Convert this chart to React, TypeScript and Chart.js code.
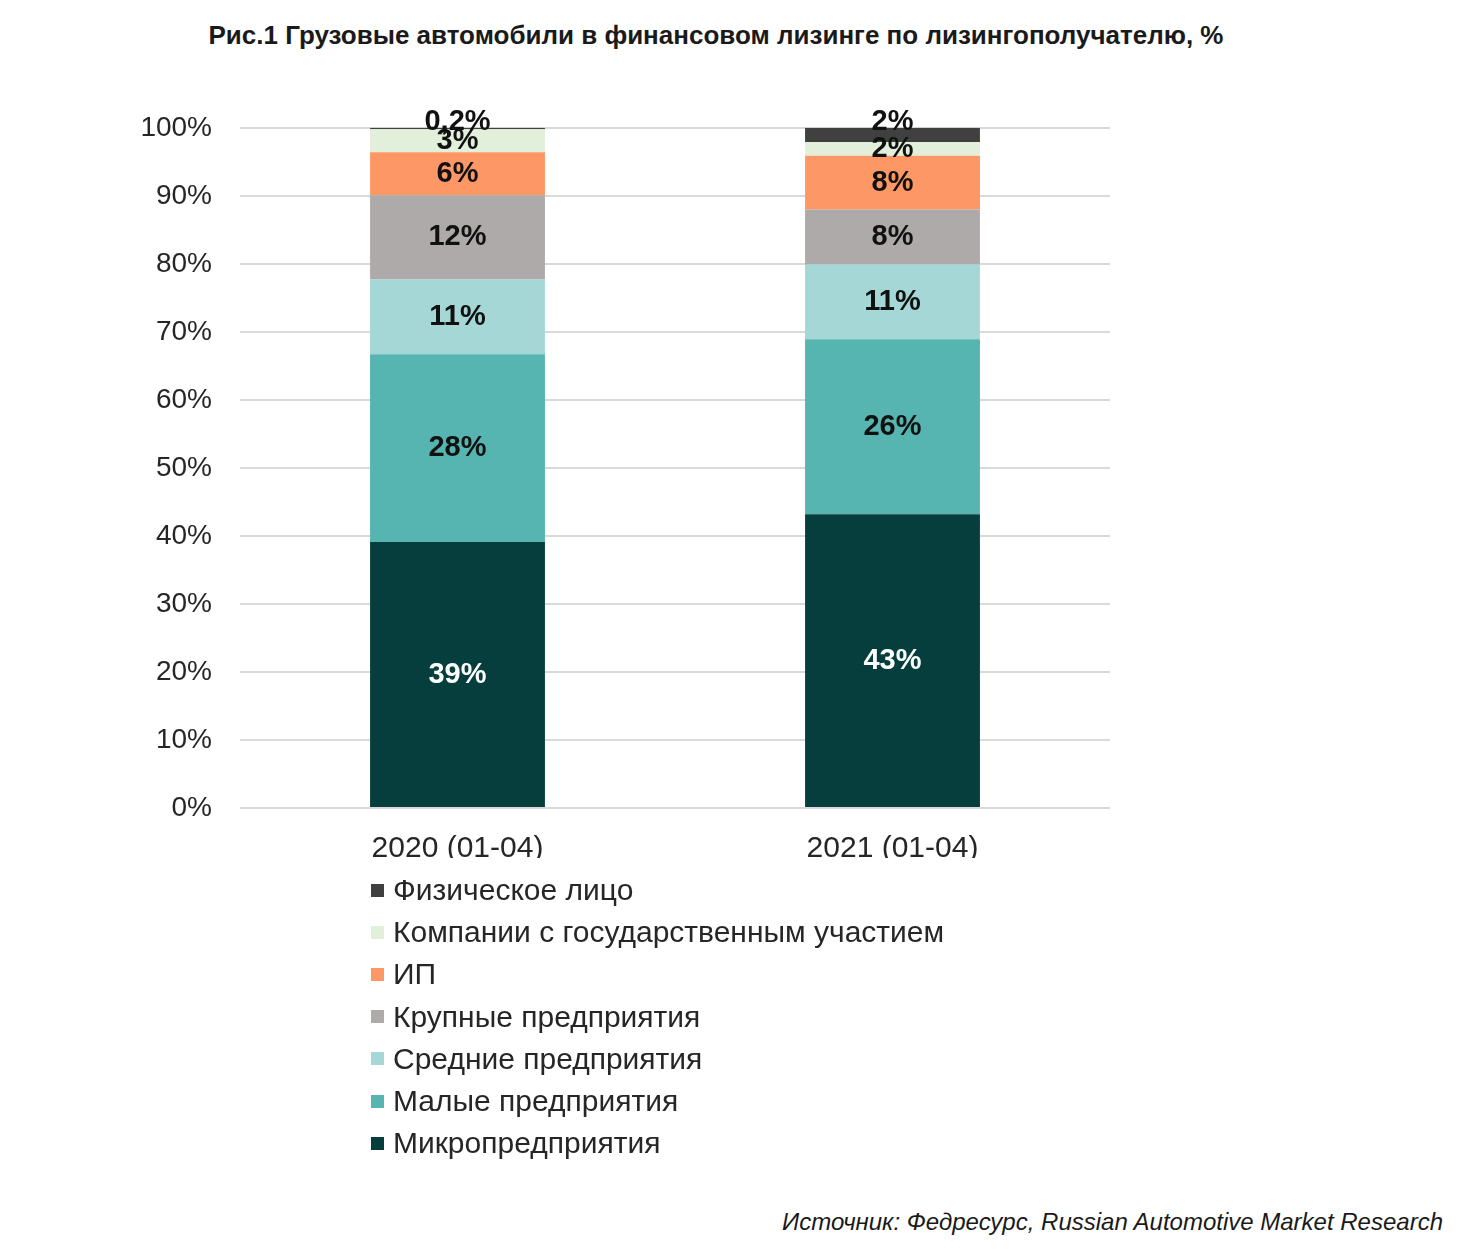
import React, { useEffect, useRef } from "react";
import { Chart, registerables } from "chart.js";

Chart.register(...registerables);

const categories = ["2020 (01-04)", "2021 (01-04)"];
const seriesNames = [
  "Микропредприятия",
  "Малые предприятия",
  "Средние предприятия",
  "Крупные предприятия",
  "ИП",
  "Компании с государственным участием",
  "Физическое лицо",
];
const micro = [39.1, 43.2];
const small = [27.6, 25.7];
const medium = [11.0, 11.0];
const large = [12.4, 8.1];
const ip = [6.3, 7.9];
const stateCo = [3.4, 2.0];
const physical = [0.2, 2.1];
const colors = ["#063e3d", "#56b4b1", "#a4d7d5", "#aeaaa9", "#fd9866", "#e2efda", "#404040"];
const labelColors = ["#ffffff", "#111111", "#111111", "#111111", "#111111", "#111111", "#111111"];
const yTicks = [0, 10, 20, 30, 40, 50, 60, 70, 80, 90, 100];

const FONT = "'Liberation Sans', Arial, sans-serif";

function fmt(v: number) {
  if (v < 1) return v.toFixed(1).replace(".", ",") + "%";
  return Math.round(v) + "%";
}

const labelPlugin = {
  id: "barLabels",
  afterDatasetsDraw(chart: any) {
    const ctx = chart.ctx;
    ctx.save();
    ctx.font = `bold 29px ${FONT}`;
    ctx.textAlign = "center";
    ctx.textBaseline = "middle";
    const n = chart.data.datasets.length;
    chart.data.datasets.forEach((ds: any, i: number) => {
      const meta = chart.getDatasetMeta(i);
      meta.data.forEach((el: any, j: number) => {
        const v = ds.data[j];
        let y = (el.y + el.base) / 2;
        if (i === n - 1) y = el.y - 6;
        ctx.fillStyle = labelColors[i];
        ctx.fillText(fmt(v), el.x, y);
      });
    });
    ctx.restore();
  },
};

function ChartCanvas() {
  const ref = useRef<HTMLCanvasElement | null>(null);
  useEffect(() => {
    if (!ref.current) return;
    const series = [micro, small, medium, large, ip, stateCo, physical];
    const chart = new Chart(ref.current, {
      type: "bar",
      data: {
        labels: categories,
        datasets: series.map((d, i) => ({
          label: seriesNames[i],
          data: d,
          backgroundColor: colors[i],
          borderWidth: 0,
          barPercentage: 0.402,
          categoryPercentage: 1,
        })),
      },
      options: {
        responsive: false,
        animation: false,
        layout: { padding: { top: 31, right: 20, bottom: 22, left: 0 } },
        plugins: { legend: { display: false }, tooltip: { enabled: false }, title: { display: false } },
        scales: {
          x: {
            stacked: true,
            grid: { display: false, drawTicks: false },
            border: { display: false },
            ticks: { padding: 23, color: "#262626", font: { family: FONT, size: 30 } },
            afterFit(scale: any) {
              scale.height = 50;
            },
          },
          y: {
            stacked: true,
            min: 0,
            max: 100,
            afterBuildTicks(scale: any) {
              scale.ticks = yTicks.map((v) => ({ value: v }));
            },
            ticks: {
              padding: 28,
              color: "#262626",
              font: { family: FONT, size: 28 },
              callback: (v: any) => v + "%",
            },
            grid: { color: "#d9d9d9", lineWidth: 2, drawTicks: false },
            border: { display: false },
            afterFit(scale: any) {
              scale.width = 120;
            },
          },
        },
      },
      plugins: [labelPlugin],
    });
    return () => chart.destroy();
  }, []);
  return (
    <canvas
      ref={ref}
      width={1010}
      height={797}
      style={{ position: "absolute", left: 112, top: 75, width: 1010, height: 797 }}
    />
  );
}

export default function App() {
  const legendOrder = [6, 5, 4, 3, 2, 1, 0];
  return (
    <div style={{ position: "relative", width: 1460, height: 1234, fontFamily: FONT, background: "#fff" }}>
      <div
        style={{
          position: "absolute",
          left: 0,
          width: 1416,
          top: 12,
          lineHeight: "30px",
          textAlign: "center",
          fontWeight: "bold",
          fontSize: 26,
          color: "#1a1a1a",
        }}
      >
        Рис.1 Грузовые автомобили в финансовом лизинге по лизингополучателю, %
      </div>
      <ChartCanvas />
      <div style={{ position: "absolute", left: 363, top: 861 }}>
        {legendOrder.map((i) => (
          <div
            key={i}
            style={{ display: "flex", alignItems: "center", height: 42.2, fontSize: 30, color: "#262626", whiteSpace: "nowrap" }}
          >
            <span style={{ width: 13, height: 13, background: colors[i], display: "inline-block", marginRight: 9, flex: "none" }} />
            <span>{seriesNames[i]}</span>
          </div>
        ))}
      </div>
      <div
        style={{
          position: "absolute",
          right: 25,
          top: 1199,
          lineHeight: "30px",
          fontStyle: "italic",
          fontSize: 24,
          color: "#1a1a1a",
        }}
      >
        Источник: Федресурс, Russian Automotive Market Research
      </div>
    </div>
  );
}
